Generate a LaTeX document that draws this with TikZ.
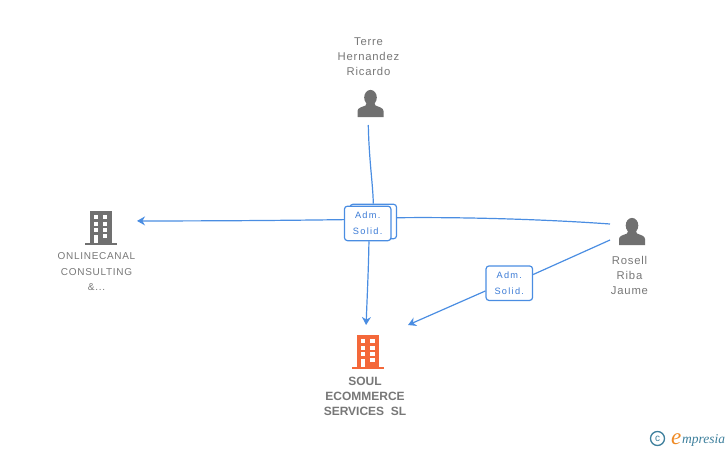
\documentclass[tikz,border=0pt]{standalone}
\usepackage{fontspec}
\setmainfont{Liberation Sans}
\newfontfamily\labelfont[LetterSpace=7]{Liberation Sans}
\newfontfamily\admfont[LetterSpace=14]{Liberation Sans}
\newfontfamily\logofont{Liberation Serif}
\usetikzlibrary{arrows.meta}
\definecolor{linkblue}{HTML}{4A8DE2}
\definecolor{admblue}{HTML}{3B7BD6}
\definecolor{icongray}{HTML}{707070}
\definecolor{textgray}{HTML}{777777}
\definecolor{soulorange}{HTML}{F4683A}
\definecolor{logoteal}{HTML}{3D7F9C}
\definecolor{logoorange}{HTML}{EF8A24}
\tikzset{
  link/.style={linkblue,line width=1.2pt},
  linkarrow/.style={link,-{Stealth[length=8pt,width=9pt]}},
  admbox/.style={draw=linkblue,line width=1.2pt,fill=white,rounded corners=3pt,
    minimum width=46.5pt,minimum height=34.5pt,inner sep=0pt,align=center,
    text=admblue,font=\admfont\fontsize{9.2}{16}\selectfont},
  namelabel/.style={align=center,text=textgray,inner sep=0pt,
    font=\labelfont\fontsize{11.3}{15}\selectfont},
  iconslot/.style={inner sep=0pt,outer sep=0pt},
  pics/personicon/.style={code={
    \fill[icongray] (0,-6.5) ellipse[x radius=6.3,y radius=7.6];
    \fill[icongray] (-13,13) -- (-13,7) .. controls (-13,3.5) and (-8,3) .. (-5,1.5)
      -- (-3.5,-2) -- (3.5,-2) -- (5,1.5) .. controls (8,3) and (13,3.5) .. (13,7) -- (13,13) -- cycle;
  }},
  pics/buildingicon/.style={code={
    \fill[#1] (-11,-17) rectangle (11,14.5);
    \fill[#1] (-16,14.5) rectangle (16,16.8);
    \foreach \rowy in {-13,-6,0.3} {
      \fill[white] (-7,\rowy) rectangle (-2.7,\rowy+4);
      \fill[white] (2,\rowy) rectangle (6.5,\rowy+4);
    }
    \fill[white] (-7,7) rectangle (-2.7,14.5);
    \fill[white] (2,6.3) rectangle (6.5,10.3);
  }},
}
\begin{document}
\begin{tikzpicture}[x=1pt,y=-1pt]
\useasboundingbox (0,0) rectangle (728,450);
% icons
\node[iconslot,minimum width=44pt,minimum height=42pt] (terre) at (370.5,104) {};
\node[iconslot,minimum width=44pt,minimum height=42pt] (rosell) at (632,232) {};
\node[iconslot,minimum width=73pt,minimum height=34pt] (onlinecanal) at (100.5,228) {};
\node[iconslot,minimum width=80pt,minimum height=54pt] (soul) at (368,352) {};
\pic at (terre) {personicon};
\pic at (rosell) {personicon};
\pic at (onlinecanal) {buildingicon=icongray};
\pic at (soul) {buildingicon=soulorange};
% labels
\node[namelabel] (terrelabel) at (368.5,56.5) {Terre\\Hernandez\\Ricardo};
\node[namelabel] (rosellabel) at (629.5,275) {Rosell\\Riba\\Jaume};
\node[namelabel,font=\labelfont\fontsize{10}{15.5}\selectfont] (onlinelabel) at (96.5,272) {ONLINECANAL\\CONSULTING\\\&...};
\node[namelabel,font=\bfseries\fontsize{12}{15}\selectfont] (soullabel) at (365,396.5) {SOUL\\ECOMMERCE\\SERVICES\ \ SL};
% boxes
\node[admbox] (backbox) at (373.3,221.5) {};
\node[admbox] (mainbox) at (367.7,223.4) {Adm.\\Solid.};
\node[admbox] (rosellbox) at (509.3,283.2) {Adm.\\Solid.};
% connectors
\draw[link] (terre.264) .. controls (369,160) and (373,185) .. (backbox.north);
\draw[linkarrow] (mainbox.274) .. controls (368.5,270) and (367,300) .. (soul.94);
\draw[link] (rosell.160) .. controls (540,219) and (460,217) .. (backbox.9);
\draw[linkarrow] (mainbox.171) .. controls (280,220.5) and (210,221) .. (onlinecanal.11);
\draw[link] (rosell.200) -- (rosellbox.20);
\draw[linkarrow] (rosellbox.198) -- (soul.north east);
% logo
\node[draw=logoteal,line width=1.3pt,circle,inner sep=0pt,minimum size=14pt,text=logoteal,font=\fontsize{10}{10}\selectfont] (copyrightmark) at (657.5,438.5) {c};
\node[anchor=base west,inner sep=0pt,text=logoorange,font=\logofont\itshape\fontsize{23}{23}\selectfont] (logoe) at (671,444) {e};
\node[anchor=base west,inner sep=0pt,text=logoteal,font=\logofont\itshape\fontsize{13.5}{13.5}\selectfont] (logotext) at (682,443) {mpresia};
\end{tikzpicture}
\end{document}
